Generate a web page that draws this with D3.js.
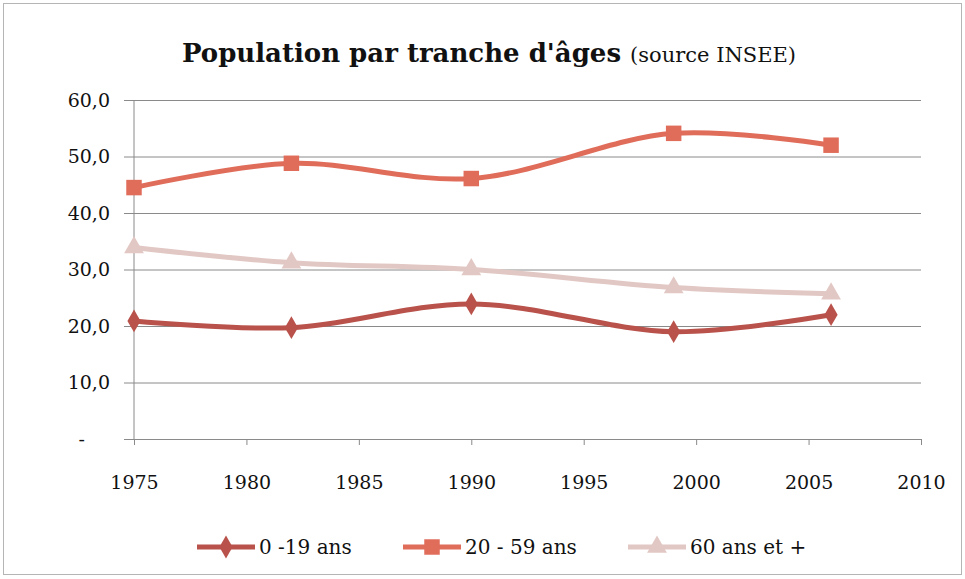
<!DOCTYPE html>
<html>
<head>
<meta charset="utf-8">
<script src="https://cdn.jsdelivr.net/npm/d3@7"></script>
<style>
  body { margin: 0; background: #fff; }
  text { font-family: 'DejaVu Serif', serif; fill: #111; }
</style>
</head>
<body>
<script>
'use strict';

const years = [1975, 1982, 1990, 1999, 2006];
const seriesNames = ['0 -19 ans', '20 - 59 ans', '60 ans et +'];
const young = [20.9, 19.7, 23.9, 19.0, 22.0];
const adults = [44.5, 48.8, 46.1, 54.1, 52.0];
const seniors = [33.9, 31.2, 30.0, 26.8, 25.7];
const xTicks = [1975, 1980, 1985, 1990, 1995, 2000, 2005, 2010];
const yTicks = [0, 10, 20, 30, 40, 50, 60];

const width = 965;
const height = 579;
const colors = ['#b9524b', '#e06c5a', '#e2c8c4'];
const shapes = [d3.symbolDiamond, d3.symbolSquare, d3.symbolTriangle];
const shapeSizes = [150, 240, 170];

const x = d3.scaleLinear().domain([1975, 2010]).range([134, 921]);
const y = d3.scaleLinear().domain([0, 60]).range([439, 100]);

const svg = d3.select('body').append('svg')
  .attr('width', width)
  .attr('height', height);

svg.append('rect')
  .attr('x', 3.5).attr('y', 3.5)
  .attr('width', 958).attr('height', 571)
  .attr('fill', 'none')
  .attr('stroke', '#b5b5b5');

// title
const title = svg.append('text')
  .attr('x', 489).attr('y', 62)
  .attr('text-anchor', 'middle');
title.append('tspan')
  .attr('font-weight', 'bold')
  .attr('font-size', 26)
  .text('Population par tranche d\'âges ');
title.append('tspan')
  .attr('font-size', 21)
  .text('(source INSEE)');

// y grid + axis
const yAxis = d3.axisLeft(y)
  .tickValues(yTicks)
  .tickSize(-(921 - 134))
  .tickPadding(22)
  .tickFormat(function(d) { return d === 0 ? '-' : d3.format('.1f')(d).replace('.', ','); });

const gy = svg.append('g')
  .attr('transform', 'translate(134,0)')
  .call(yAxis);
gy.select('.domain').remove();
gy.selectAll('.tick line')
  .attr('x1', -10)
  .attr('stroke', '#8a8a8a');
gy.selectAll('.tick text')
  .attr('font-size', 19)
  .attr('font-family', '\'DejaVu Serif\', serif')
  .attr('fill', '#111')
  .attr('x', function(d) { return d === 0 ? -49 : -24; });

svg.append('line')
  .attr('x1', 134).attr('x2', 134)
  .attr('y1', 100).attr('y2', 439)
  .attr('stroke', '#8a8a8a');

// x axis
const gx = svg.append('g')
  .attr('transform', 'translate(0,439)')
  .call(d3.axisBottom(x).tickValues(xTicks).tickSize(6).tickPadding(31).tickFormat(d3.format('d')));
gx.select('.domain').attr('stroke', '#8a8a8a');
gx.selectAll('.tick line').attr('stroke', '#8a8a8a');
gx.selectAll('.tick text')
  .attr('font-size', 19)
  .attr('font-family', '\'DejaVu Serif\', serif')
  .attr('fill', '#111');

// series
const series = [young, adults, seniors].map(function(vals, i) {
  return { name: seriesNames[i], values: vals.map(function(v, j) { return { year: years[j], value: v }; }) };
});

const line = d3.line()
  .x(function(d) { return x(d.year); })
  .y(function(d) { return y(d.value); })
  .curve(d3.curveCatmullRom);

const drawOrder = [2, 0, 1];
drawOrder.forEach(function(i) {
  const s = series[i];
  const g = svg.append('g');
  g.append('path')
    .attr('d', line(s.values))
    .attr('fill', 'none')
    .attr('stroke', colors[i])
    .attr('stroke-width', 5);
  g.selectAll('path.marker')
    .data(s.values)
    .enter().append('path')
    .attr('class', 'marker')
    .attr('d', d3.symbol().type(shapes[i]).size(shapeSizes[i]))
    .attr('transform', function(d) { return 'translate(' + x(d.year) + ',' + y(d.value) + ')'; })
    .attr('fill', colors[i]);
});

// legend
const legendX = [197, 403, 628];
series.forEach(function(s, i) {
  const g = svg.append('g').attr('transform', 'translate(' + legendX[i] + ',547)');
  g.append('line')
    .attr('x1', 0).attr('x2', 58)
    .attr('stroke', colors[i])
    .attr('stroke-width', 5);
  g.append('path')
    .attr('d', d3.symbol().type(shapes[i]).size(shapeSizes[i]))
    .attr('transform', 'translate(29,0)')
    .attr('fill', colors[i]);
  g.append('text')
    .attr('x', 62).attr('y', 7)
    .attr('font-size', 20)
    .text(s.name);
});
</script>
</body>
</html>
